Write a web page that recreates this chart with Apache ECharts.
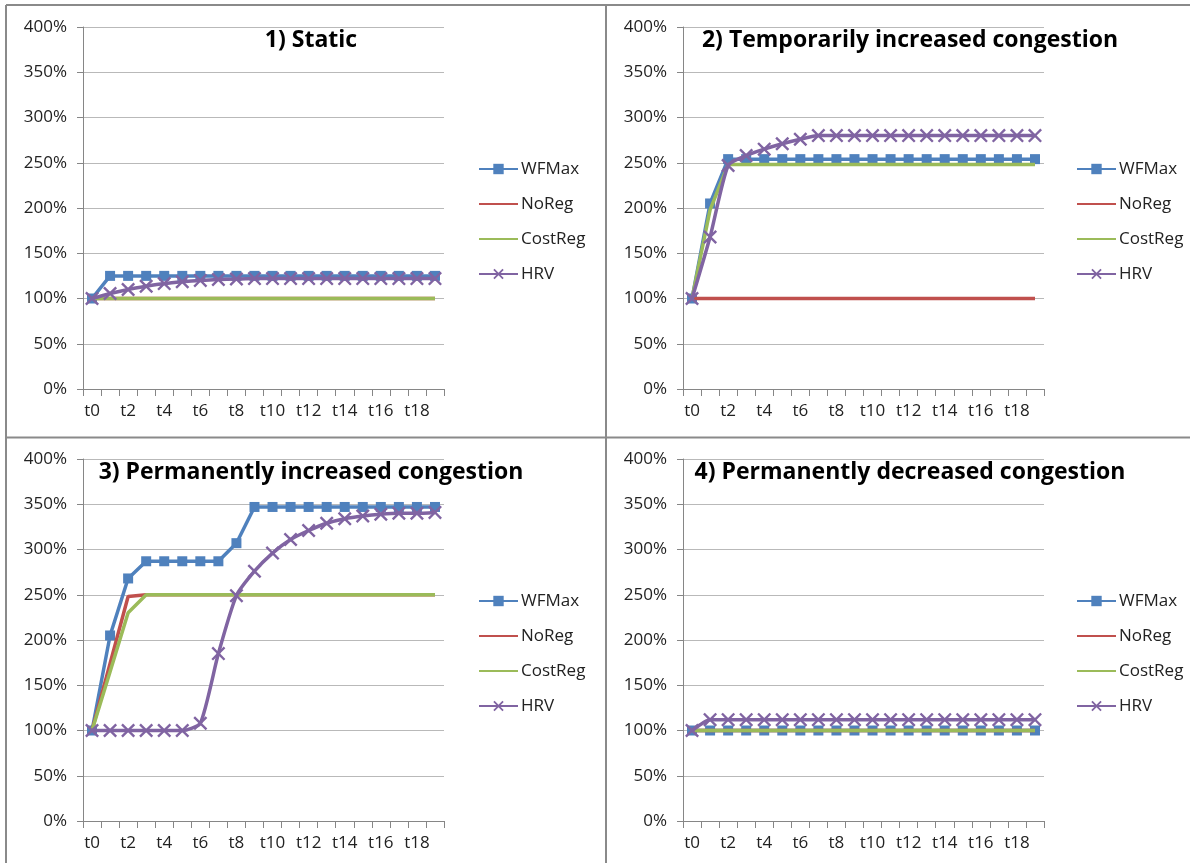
<!DOCTYPE html>
<html><head><meta charset="utf-8">
<script src="https://cdn.jsdelivr.net/npm/echarts@6/dist/echarts.min.js"></script>
<style>html,body{margin:0;padding:0;background:#fff}#c{width:1190px;height:863px}</style>
</head><body><div id="c"></div>
<script>
// ---- data ----
const categories = ['t0','t1','t2','t3','t4','t5','t6','t7','t8','t9','t10','t11','t12','t13','t14','t15','t16','t17','t18','t19'];
const seriesNames = ['WFMax','NoReg','CostReg','HRV'];
const panelTitles = ['1) Static','2) Temporarily increased congestion','3) Permanently increased congestion','4) Permanently decreased congestion'];

// Panel 1: Static
const p1WFMax   = [100,125,125,125,125,125,125,125,125,125,125,125,125,125,125,125,125,125,125,125];
const p1NoReg   = [100,100,100,100,100,100,100,100,100,100,100,100,100,100,100,100,100,100,100,100];
const p1CostReg = [100,100,100,100,100,100,100,100,100,100,100,100,100,100,100,100,100,100,100,100];
const p1HRV     = [100,105.5,110,113.5,116.5,118.5,120,121,121.5,122,122,122,122,122,122,122,122,122,122,122];

// Panel 2: Temporarily increased congestion
const p2WFMax   = [100,205,254,254,254,254,254,254,254,254,254,254,254,254,254,254,254,254,254,254];
const p2NoReg   = [100,100,100,100,100,100,100,100,100,100,100,100,100,100,100,100,100,100,100,100];
const p2CostReg = [100,198,248,248,248,248,248,248,248,248,248,248,248,248,248,248,248,248,248,248];
const p2HRV     = [100,168,247,258,265,271,276,280,280,280,280,280,280,280,280,280,280,280,280,280];

// Panel 3: Permanently increased congestion
const p3WFMax   = [100,205,268,287,287,287,287,287,307,347,347,347,347,347,347,347,347,347,347,347];
const p3NoReg   = [100,174,248,250,250,250,250,250,250,250,250,250,250,250,250,250,250,250,250,250];
const p3CostReg = [100,165,230,250,250,250,250,250,250,250,250,250,250,250,250,250,250,250,250,250];
const p3HRV     = [100,100,100,100,100,100,108,185,249,276,296,311,321,329,334,337,339,340,340,341];

// Panel 4: Permanently decreased congestion
const p4WFMax   = [100,100,100,100,100,100,100,100,100,100,100,100,100,100,100,100,100,100,100,100];
const p4NoReg   = [100,100,100,100,100,100,100,100,100,100,100,100,100,100,100,100,100,100,100,100];
const p4CostReg = [100,100,100,100,100,100,100,100,100,100,100,100,100,100,100,100,100,100,100,100];
const p4HRV     = [100,112,112,112,112,112,112,112,112,112,112,112,112,112,112,112,112,112,112,112];

const panels = [
  [p1WFMax, p1NoReg, p1CostReg, p1HRV],
  [p2WFMax, p2NoReg, p2CostReg, p2HRV],
  [p3WFMax, p3NoReg, p3CostReg, p3HRV],
  [p4WFMax, p4NoReg, p4CostReg, p4HRV]
];

// ---- styling ----
const colors = ['#4F81BD','#C0504D','#9BBB59','#8064A2'];
const FONT = '"Open Sans", Lato, sans-serif';
const xMark = 'path://M0,12L12,0L50,38L88,0L100,12L62,50L100,88L88,100L50,62L12,100L0,88L38,50Z';
const layout = [
  {left: 83,  top: 27,  w: 361, h: 362, cx: 306, legX: 478},
  {left: 683, top: 27,  w: 361, h: 362, cx: 905, legX: 1076},
  {left: 83,  top: 459, w: 361, h: 362, cx: 306, legX: 478},
  {left: 683, top: 459, w: 361, h: 362, cx: 905, legX: 1076}
];

const grid = [], xAxis = [], yAxis = [], series = [], title = [], legend = [];
layout.forEach((L, i) => {
  grid.push({left: L.left, top: L.top, width: L.w, height: L.h, containLabel: false});
  xAxis.push({
    type: 'category', gridIndex: i, data: categories, boundaryGap: true,
    axisLine: {show: true, lineStyle: {color: '#868686', width: 1}},
    axisTick: {show: true, interval: 0, length: 7, lineStyle: {color: '#868686'}},
    axisLabel: {interval: 1, margin: 14, color: '#222', fontSize: 17, fontFamily: FONT},
    splitLine: {show: false}
  });
  yAxis.push({
    type: 'value', gridIndex: i, min: 0, max: 400, interval: 50,
    axisLine: {show: true, lineStyle: {color: '#868686', width: 1}},
    axisTick: {show: true, length: 6, lineStyle: {color: '#868686'}},
    axisLabel: {formatter: '{value}%', margin: 16, color: '#222', fontSize: 17, fontFamily: FONT},
    splitLine: {show: true, lineStyle: {color: '#b9b9b9', width: 1}}
  });
  title.push({
    text: panelTitles[i], left: L.cx, top: L.top - 3, textAlign: 'center',
    textStyle: {fontFamily: FONT, fontWeight: 'bold', fontSize: 23, color: '#000'}
  });
  legend.push({
    orient: 'vertical', left: L.legX, top: L.top + 132, padding: 0,
    itemWidth: 39, itemHeight: 13, itemGap: 15,
    data: seriesNames, selectedMode: false,
    textStyle: {fontFamily: FONT, fontSize: 17, color: '#222', lineHeight: 20, padding: [0,0,0,-2]}
  });
  panels[i].forEach((vals, k) => {
    const s = {
      name: seriesNames[k], type: 'line', xAxisIndex: i, yAxisIndex: i, data: vals,
      lineStyle: {color: colors[k], width: 3.5},
      itemStyle: {color: (k === 1 || k === 2) ? 'rgba(0,0,0,0)' : colors[k], borderWidth: 0},
      symbol: 'none', showSymbol: false, showAllSymbol: true, z: 2 + k
    };
    if (k === 0) { s.symbol = 'rect'; s.symbolSize = 10; s.showSymbol = true; }
    if (k === 3) { s.symbol = xMark; s.symbolSize = 14; s.showSymbol = true; s.smooth = 0.2; }
    series.push(s);
  });
});

const bc = '#8a8a8a';
const graphic = [
  {type: 'line', shape: {x1: 6, y1: 5, x2: 1190, y2: 5}, style: {stroke: bc, lineWidth: 2}},
  {type: 'line', shape: {x1: 6, y1: 5, x2: 6, y2: 863}, style: {stroke: bc, lineWidth: 2}},
  {type: 'line', shape: {x1: 606, y1: 5, x2: 606, y2: 863}, style: {stroke: bc, lineWidth: 2}},
  {type: 'line', shape: {x1: 6, y1: 437.5, x2: 1190, y2: 437.5}, style: {stroke: bc, lineWidth: 2}}
];

const chart = echarts.init(document.getElementById('c'), null, {renderer: 'canvas'});
chart.setOption({
  animation: false, backgroundColor: '#fff',
  grid, xAxis, yAxis, series, title, legend, graphic
});
</script>
</body></html>
